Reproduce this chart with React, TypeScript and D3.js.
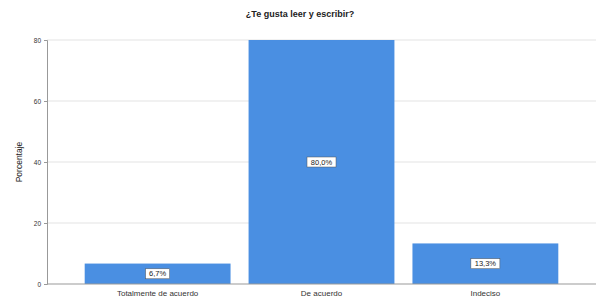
import React, { useRef, useEffect } from 'react';
import * as d3 from 'd3';

const categories = ['Totalmente de acuerdo', 'De acuerdo', 'Indeciso'];
const percents = [6.7, 80.0, 13.3];
const yTicks = [0, 20, 40, 60, 80];

const W = 596;
const H = 297;

const App: React.FC = () => {
  const svgRef = useRef<SVGSVGElement>(null);

  useEffect(() => {
    if (!svgRef.current) return;
    const svg = d3.select(svgRef.current);
    svg.selectAll('*').remove();

    const left = 47;
    const right = 596;
    const top = 40;
    const bottom = 284;

    const x = d3.scaleBand<string>()
      .domain(categories)
      .range([left, right])
      .paddingInner(0.11)
      .paddingOuter(0.23);

    const y = d3.scaleLinear().domain([0, 80]).range([bottom, top]);

    svg.append('rect').attr('width', W).attr('height', H).attr('fill', '#ffffff');

    // gridlines
    svg.append('g')
      .selectAll('line')
      .data(yTicks.filter(t => t > 0))
      .enter()
      .append('line')
      .attr('x1', left)
      .attr('x2', right)
      .attr('y1', d => y(d))
      .attr('y2', d => y(d))
      .attr('stroke', '#e3e3e3')
      .attr('stroke-width', 1);

    // bars
    const data = categories.map((c, i) => ({ name: c, value: percents[i] }));
    svg.append('g')
      .selectAll('rect')
      .data(data)
      .enter()
      .append('rect')
      .attr('x', d => x(d.name)!)
      .attr('width', x.bandwidth())
      .attr('y', d => y(d.value))
      .attr('height', d => bottom - y(d.value))
      .attr('fill', '#4a8fe2');

    // y axis
    const yAxis = svg.append('g')
      .attr('transform', `translate(${left},0)`)
      .call(d3.axisLeft(y).tickValues(yTicks).tickSize(3).tickFormat(d3.format('d')));
    yAxis.select('.domain').attr('stroke', '#999');
    yAxis.selectAll('.tick line').attr('stroke', '#999');
    yAxis.selectAll('.tick text')
      .attr('font-family', 'Arial, Liberation Sans, sans-serif')
      .attr('font-size', 6.5)
      .attr('fill', '#333');

    // x axis
    const xAxis = svg.append('g')
      .attr('transform', `translate(0,${bottom})`)
      .call(d3.axisBottom(x).tickSize(0).tickPadding(6));
    xAxis.select('.domain').attr('stroke', '#999').attr('d', `M${left},0H${right}`);
    xAxis.selectAll('.tick text')
      .attr('font-family', 'Arial, Liberation Sans, sans-serif')
      .attr('font-size', 8)
      .attr('fill', '#333');

    // value labels
    const lab = svg.append('g')
      .selectAll('g')
      .data(data)
      .enter()
      .append('g')
      .attr('transform', d => {
        const cx = x(d.name)! + x.bandwidth() / 2;
        const cy = (y(d.value) + bottom) / 2;
        return `translate(${cx},${cy})`;
      });
    const fmt = (v: number) => v.toFixed(1).replace('.', ',') + '%';
    lab.append('rect')
      .attr('x', d => -fmt(d.value).length * 2.5 - 2)
      .attr('y', -5)
      .attr('width', d => fmt(d.value).length * 5 + 4)
      .attr('height', 10)
      .attr('fill', '#ffffff')
      .attr('stroke', '#555')
      .attr('stroke-width', 0.5);
    lab.append('text')
      .attr('text-anchor', 'middle')
      .attr('dy', '0.35em')
      .attr('font-family', 'Arial, Liberation Sans, sans-serif')
      .attr('font-size', 7.5)
      .attr('fill', '#222')
      .text(d => fmt(d.value));

    // title
    svg.append('text')
      .attr('x', 300)
      .attr('y', 17)
      .attr('text-anchor', 'middle')
      .attr('font-family', 'Arial, Liberation Sans, sans-serif')
      .attr('font-size', 9)
      .attr('font-weight', 'bold')
      .attr('fill', '#222')
      .text('¿Te gusta leer y escribir?');

    // y label
    svg.append('text')
      .attr('transform', `translate(22,${(top + bottom) / 2}) rotate(-90)`)
      .attr('text-anchor', 'middle')
      .attr('font-family', 'Arial, Liberation Sans, sans-serif')
      .attr('font-size', 8.5)
      .attr('fill', '#222')
      .text('Porcentaje');
  }, []);

  return (
    <svg
      ref={svgRef}
      width={W}
      height={H}
      viewBox={`0 0 ${W} ${H}`}
      style={{ position: 'absolute', left: 0, top: 0, display: 'block' }}
    />
  );
};

export default App;
